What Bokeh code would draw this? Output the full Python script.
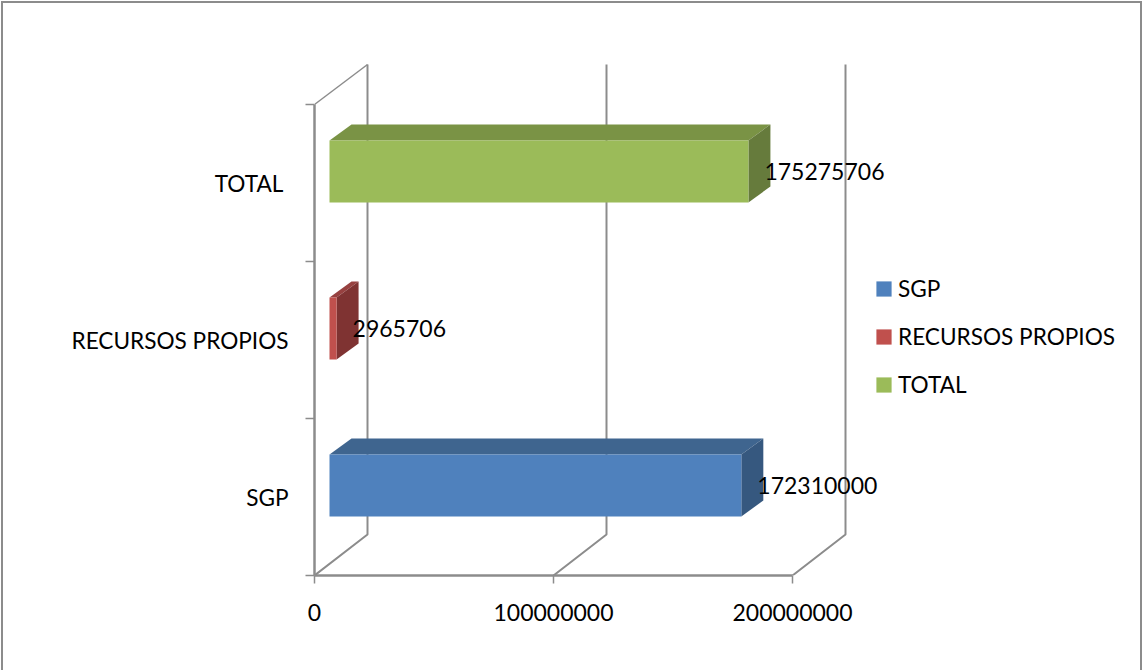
from bokeh.plotting import figure
from bokeh.models import Range1d, FixedTicker, LinearAxis, Legend, LegendItem
from bokeh.core.properties import value
from bokeh.embed import file_html
from bokeh.resources import INLINE

categories = ["SGP", "RECURSOS PROPIOS", "TOTAL"]
axis_labels = ["SGP", "RECURSOS PROPIOS", "TOTAL\u00a0"]
values = [172310000, 2965706, 175275706]
x_ticks = [0, 100000000, 200000000]
x_tick_labels = ["0", "100000000", "200000000"]
y_boundaries = [0, 1, 2, 3]
front_colors = ["#4F81BD", "#C0504D", "#9BBB59"]
top_colors = ["#3F658F", "#974140", "#7A9345"]
side_colors = ["#36587F", "#7F3332", "#667B3C"]

FONT = "Lato"
FS = "23px"
FS_CAT = "22.6px"
GRID = "#8C8C8C"

W, H = 1142, 670
L, R, T, B = 314, 5, 40, 95
px_per_x = 239 / 100000000          # pixels per unit of value
px_per_y = 157                      # pixels per category band
xs = lambda px: px / px_per_x
ys = lambda px: px / px_per_y

p = figure(width=W, height=H, output_backend="svg", toolbar_location=None,
           x_range=Range1d(0, xs(W - L - R)), y_range=Range1d(0, ys(H - T - B)),
           min_border_left=L, min_border_right=R, min_border_top=T, min_border_bottom=B,
           x_axis_type="linear", y_axis_type="linear", tools="")
p.grid.visible = False
p.outline_line_color = None
p.background_fill_color = "white"
p.border_fill_color = None
p.styles = {"box-shadow": "inset 1px 1px 0 #FFFFFF, inset 3px 3px 0 #8C8C8C, inset -2px 0 0 #8C8C8C"}

# 3D walls
wall_dx, wall_dy = xs(53), ys(41)
for t in x_ticks:
    p.line([t, t + wall_dx, t + wall_dx], [0, wall_dy, y_boundaries[-1] + ys(40)],
           line_color=GRID, line_width=2)
p.line([0, wall_dx], [y_boundaries[-1], y_boundaries[-1] + ys(40)], line_color=GRID, line_width=1.5)

# 3D bars
off_x, off_y = xs(15), ys(11.5)
half_h = ys(31)
dep_x, dep_y = xs(22), ys(16)
front_renderers = []
for i, (c, v) in enumerate(zip(categories, values)):
    x0, x1 = off_x, off_x + v
    yc = i + 0.5 + off_y
    y0, y1 = yc - half_h, yc + half_h
    p.patch([x0, x0 + dep_x, x1 + dep_x, x1], [y1, y1 + dep_y, y1 + dep_y, y1],
            fill_color=top_colors[i], line_color=None)
    p.patch([x1, x1 + dep_x, x1 + dep_x, x1], [y1, y1 + dep_y, y0 + dep_y, y0],
            fill_color=side_colors[i], line_color=None)
    r = p.quad(left=[x0], right=[x1], bottom=[y0], top=[y1],
               fill_color=front_colors[i], line_color=None)
    front_renderers.append(r)
    p.text([x1], [yc], text=[str(v)], x_offset=16, text_align="left", text_baseline="middle",
           text_font=value(FONT), text_font_size=FS, text_color="black")

# axes
xa = p.xaxis[0]
xa.ticker = FixedTicker(ticks=x_ticks)
xa.major_label_overrides = dict(zip(x_ticks, x_tick_labels))
xa.bounds = (x_ticks[0], x_ticks[-1])
xa.axis_line_color = GRID
xa.axis_line_width = 2.5
xa.major_tick_line_color = GRID
xa.major_tick_line_width = 1.5
xa.major_tick_in = 0
xa.major_tick_out = 8
xa.minor_tick_line_color = None
xa.major_label_standoff = 20
xa.major_label_text_font = FONT
xa.major_label_text_font_size = FS
xa.major_label_text_color = "black"

ya = p.yaxis[0]
ya.ticker = FixedTicker(ticks=y_boundaries)
ya.major_label_text_font_size = "0px"
ya.major_label_text_color = None
ya.bounds = (y_boundaries[0], y_boundaries[-1])
ya.axis_line_color = GRID
ya.axis_line_width = 2.5
ya.major_tick_line_color = GRID
ya.major_tick_line_width = 1.5
ya.major_tick_in = 0
ya.major_tick_out = 9
ya.minor_tick_line_color = None
ya.major_label_standoff = 0

centers = [i + 0.5 for i in range(len(categories))]
la = LinearAxis(ticker=FixedTicker(ticks=centers),
                major_label_overrides=dict(zip(centers, axis_labels)))
la.axis_line_color = None
la.major_tick_line_color = None
la.minor_tick_line_color = None
la.major_label_standoff = 11
la.major_label_text_font = FONT
la.major_label_text_font_size = FS_CAT
la.major_label_text_color = "black"
p.add_layout(la, "left")

# legend
legend = Legend(items=[LegendItem(label=c, renderers=[r]) for c, r in zip(categories, front_renderers)],
                location=(560, 177), orientation="vertical",
                glyph_width=19, glyph_height=19, spacing=21, label_standoff=5,
                label_height=19, padding=0, margin=0, border_line_color=None,
                background_fill_alpha=0,
                label_text_font=FONT, label_text_font_size=FS_CAT, label_text_color="black",
                click_policy="none")
p.add_layout(legend, "center")

open("out.html", "w").write(file_html(p, INLINE))
